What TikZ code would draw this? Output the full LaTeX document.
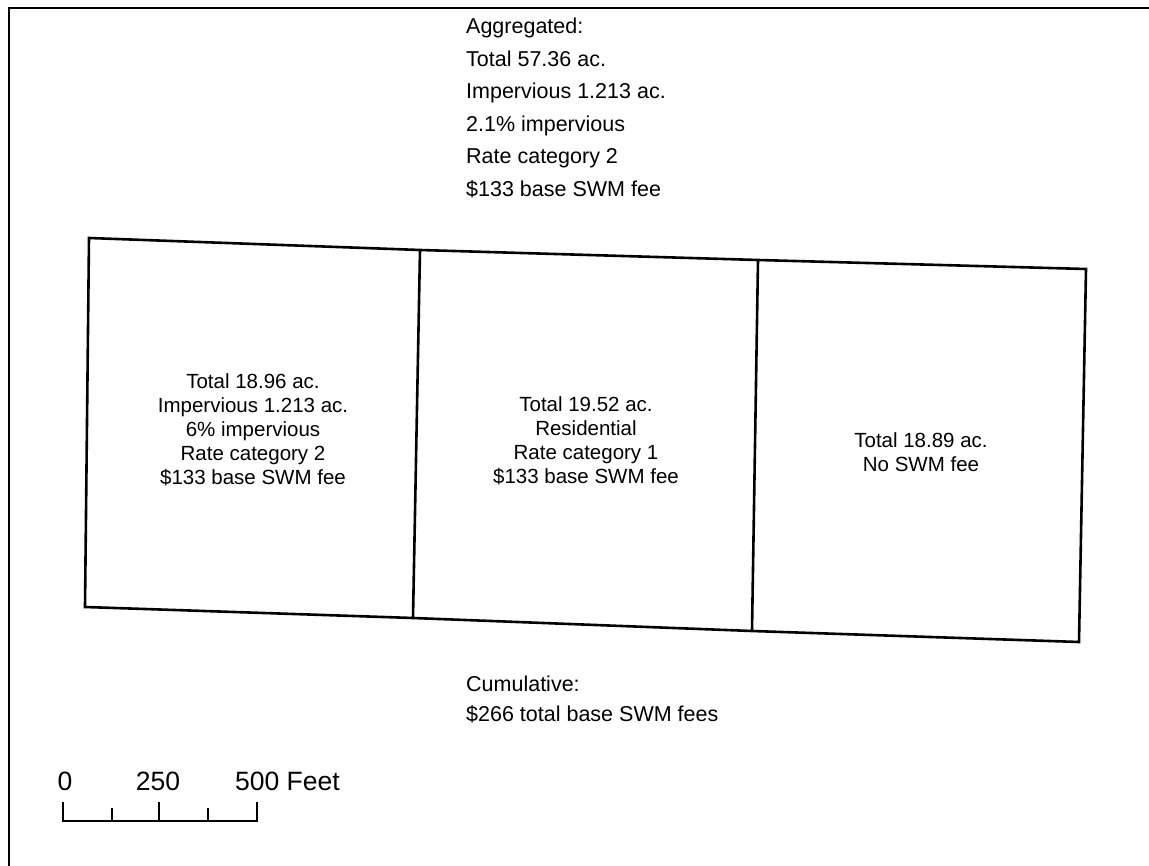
\documentclass[tikz,border=0pt]{standalone}
\usepackage{fontspec}
\setmainfont{Liberation Sans}
\begin{document}
\begin{tikzpicture}[x=1pt,y=-1pt,
  frameline/.style={line width=2pt,black},
  parcelline/.style={line width=2.6pt,black,line join=miter},
  bigtext/.style={inner sep=0pt,align=left,font=\fontsize{21.5}{32.5}\selectfont},
  cumtext/.style={inner sep=0pt,align=left,font=\fontsize{21.5}{30}\selectfont},
  parceltext/.style={inner sep=0pt,align=center,font=\fontsize{20.5}{24}\selectfont},
  scaletext/.style={inner sep=0pt,font=\fontsize{26.5}{30}\selectfont},
  scalebar/.style={line width=2pt,black}]
\useasboundingbox (0,0) rectangle (1149,866);
% frame
\coordinate (fTR) at (1149,8);
\coordinate (fTL) at (9,8);
\coordinate (fBL) at (9,866);
\draw[frameline] (fTR) -- (fTL) -- (fBL);
% parcels
\coordinate (TL) at (89,238);
\coordinate (D1T) at (420,250);
\coordinate (D2T) at (758,260);
\coordinate (TR) at (1086,269);
\coordinate (BR) at (1079,642);
\coordinate (D2B) at (752,631);
\coordinate (D1B) at (413,618);
\coordinate (BL) at (85,607);
\draw[parcelline] (TL) -- (D1T) -- (D2T) -- (TR) -- (BR) -- (D2B) -- (D1B) -- (BL) -- cycle;
\draw[parcelline] (D1T) -- (D1B);
\draw[parcelline] (D2T) -- (D2B);
% texts
\node[bigtext,anchor=north west] (agg) at (466,18) {Aggregated:\\Total 57.36 ac.\\Impervious 1.213 ac.\\2.1\% impervious\\Rate category 2\\\$133 base SWM fee};
\node[parceltext] (p1) at (253,430) {Total 18.96 ac.\\Impervious 1.213 ac.\\6\% impervious\\Rate category 2\\\$133 base SWM fee};
\node[parceltext] (p2) at (586,441) {Total 19.52 ac.\\Residential\\Rate category 1\\\$133 base SWM fee};
\node[parceltext] (p3) at (921,452) {Total 18.89 ac.\\ No SWM fee};
\node[cumtext,anchor=north west] (cum) at (466,676) {Cumulative:\\\$266 total base SWM fees};
% scale bar
\coordinate (s0) at (63,821);
\coordinate (s1) at (112,821);
\coordinate (s2) at (159,821);
\coordinate (s3) at (208,821);
\coordinate (s4) at (257,821);
\draw[scalebar] (s0) ++(0,-19) -- (s0) -- (s4) -- ++(0,-19);
\draw[scalebar] (s1) -- ++(0,-13);
\draw[scalebar] (s2) -- ++(0,-19);
\draw[scalebar] (s3) -- ++(0,-13);
\node[scaletext,anchor=base] (l0) at (65,790) {0};
\node[scaletext,anchor=base] (l250) at (158,790) {250};
\node[scaletext,anchor=base west] (l500) at (235,790) {500 Feet};
\end{tikzpicture}
\end{document}
